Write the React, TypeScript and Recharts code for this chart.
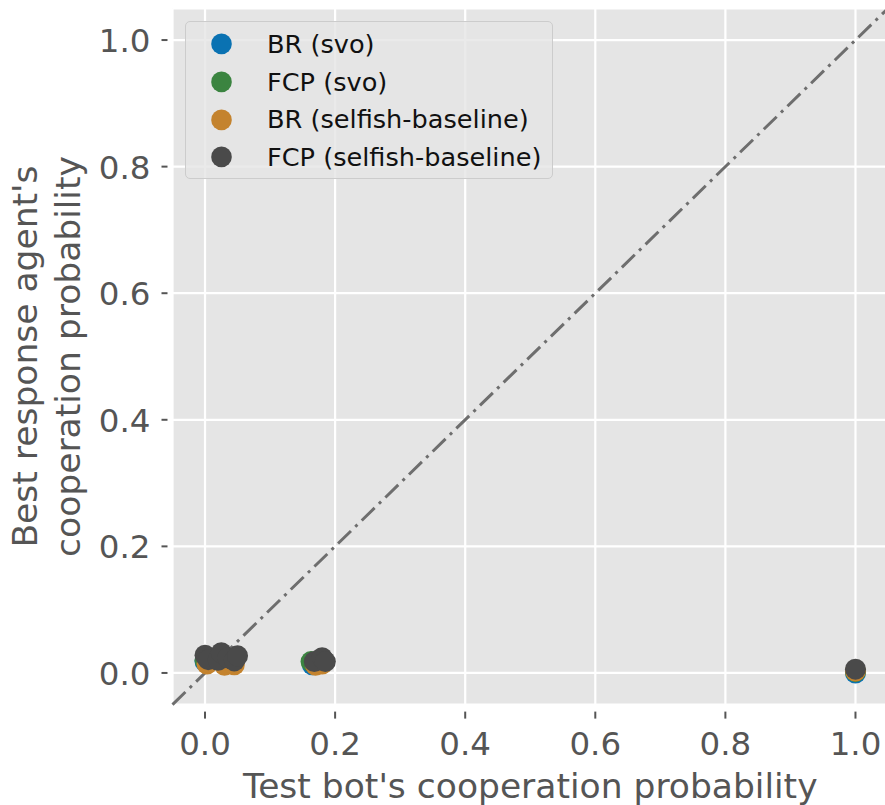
import {
  ScatterChart,
  Scatter,
  XAxis,
  YAxis,
  CartesianGrid,
  ReferenceLine,
  Legend,
} from "recharts";

// test bot cooperation (x) vs best response agent cooperation (y)
const brSvoX = [0.0, 0.03, 0.045, 0.165, 0.18, 1.0];
const brSvoY = [0.018, 0.016, 0.018, 0.013, 0.015, 0.0];
const fcpSvoX = [0.0, 0.025, 0.045, 0.163, 0.175, 1.0];
const fcpSvoY = [0.02, 0.019, 0.02, 0.018, 0.018, 0.002];
const brSelfX = [0.003, 0.03, 0.045, 0.17, 0.18, 1.0];
const brSelfY = [0.014, 0.012, 0.013, 0.012, 0.014, 0.003];
const fcpSelfX = [0.0, 0.005, 0.02, 0.025, 0.035, 0.045, 0.05, 0.168, 0.18, 0.185, 1.0];
const fcpSelfY = [0.028, 0.021, 0.02, 0.032, 0.024, 0.019, 0.027, 0.018, 0.024, 0.018, 0.006];

const ticks = [0, 0.2, 0.4, 0.6, 0.8, 1.0];
const domain: [number, number] = [-0.05, 1.05];

const seriesNames = ["BR (svo)", "FCP (svo)", "BR (selfish-baseline)", "FCP (selfish-baseline)"];
const seriesColors = ["#0a72b2", "#3b8440", "#c4832e", "#4a4a4a"];

const toPoints = (xs: number[], ys: number[]) => xs.map((x, i) => ({ x, y: ys[i] }));
const series = [
  toPoints(brSvoX, brSvoY),
  toPoints(fcpSvoX, fcpSvoY),
  toPoints(brSelfX, brSelfY),
  toPoints(fcpSelfX, fcpSelfY),
];

const FONT = "DejaVu Sans";
const TEXT = "#555555";

const XTick = (props: any) => {
  const { x, y, payload } = props;
  return (
    <g>
      <line x1={x} x2={x} y1={y + 5} y2={y + 12} stroke={TEXT} strokeWidth={2} />
      <text x={x} y={y + 48} textAnchor="middle" fill={TEXT} fontSize={32.5} fontFamily={FONT}>
        {payload.value.toFixed(1)}
      </text>
    </g>
  );
};

const YTick = (props: any) => {
  const { x, y, payload } = props;
  return (
    <g>
      <line x1={x + 11} x2={x + 17} y1={y} y2={y} stroke={TEXT} strokeWidth={2} />
      <text x={x} y={y + 12} textAnchor="end" fill={TEXT} fontSize={32.5} fontFamily={FONT}>
        {payload.value.toFixed(1)}
      </text>
    </g>
  );
};

const YLabel = (props: any) => {
  const cy = props.viewBox.y + props.viewBox.height / 2;
  return (
    <g fill={TEXT} fontSize={34.5} fontFamily={FONT}>
      <text x={37} y={cy} textAnchor="middle" transform={`rotate(-90 37 ${cy})`}>
        Best response agent's
      </text>
      <text x={80} y={cy} textAnchor="middle" transform={`rotate(-90 80 ${cy})`}>
        cooperation probability
      </text>
    </g>
  );
};

const XLabel = (props: any) => {
  const cx = props.viewBox.x + props.viewBox.width / 2;
  return (
    <text x={cx} y={798} textAnchor="middle" fill={TEXT} fontSize={34.5} fontFamily={FONT}>
      Test bot's cooperation probability
    </text>
  );
};

const LegendBox = () => (
  <div
    style={{
      width: 368,
      height: 158,
      boxSizing: "border-box",
      background: "rgba(229,229,229,0.8)",
      border: "1.5px solid #cccccc",
      borderRadius: 5,
      paddingTop: 3,
      fontFamily: FONT,
      fontSize: 25.6,
      color: "#111",
    }}
  >
    {seriesNames.map((name, i) => (
      <div key={name} style={{ display: "flex", alignItems: "center", height: 37.8 }}>
        <svg width={81} height={37.8} style={{ flex: "none" }}>
          <circle cx={35.5} cy={18.9} r={10.3} fill={seriesColors[i]} />
        </svg>
        <span>{name}</span>
      </div>
    ))}
  </div>
);

export default function App() {
  return (
    <div style={{ position: "absolute", left: 0, top: 0, width: 885, height: 805, overflow: "hidden", background: "#fff" }}>
      <ScatterChart width={888} height={805} margin={{ top: 8.4, right: 0, bottom: 0, left: 0 }}>
        <CartesianGrid fill="#e5e5e5" stroke="#ffffff" strokeWidth={2.2} />
        <XAxis
          type="number"
          dataKey="x"
          domain={domain}
          ticks={ticks}
          allowDataOverflow
          height={100.4}
          axisLine={false}
          tickLine={false}
          tickSize={0}
          tick={<XTick />}
          label={<XLabel />}
        />
        <YAxis
          type="number"
          dataKey="y"
          domain={domain}
          ticks={ticks}
          allowDataOverflow
          width={172.5}
          axisLine={false}
          tickLine={false}
          tickSize={0}
          tickMargin={22}
          tick={<YTick />}
          label={<YLabel />}
        />
        <ReferenceLine
          segment={[
            { x: domain[0], y: domain[0] },
            { x: domain[1], y: domain[1] },
          ]}
          stroke="#6e6e6e"
          strokeWidth={3}
          strokeDasharray="18 6 3 6"
          ifOverflow="visible"
        />
        {series.map((pts, i) => (
          <Scatter
            key={seriesNames[i]}
            name={seriesNames[i]}
            data={pts}
            fill={seriesColors[i]}
            isAnimationActive={false}
            shape={(p: any) => <circle cx={p.cx} cy={p.cy} r={10.5} fill={seriesColors[i]} />}
          />
        ))}
        <Legend
          layout="horizontal"
          verticalAlign="middle"
          align="center"
          content={<LegendBox />}
          wrapperStyle={{ top: 21, left: 185, width: 368, height: 158 }}
        />
      </ScatterChart>
    </div>
  );
}
